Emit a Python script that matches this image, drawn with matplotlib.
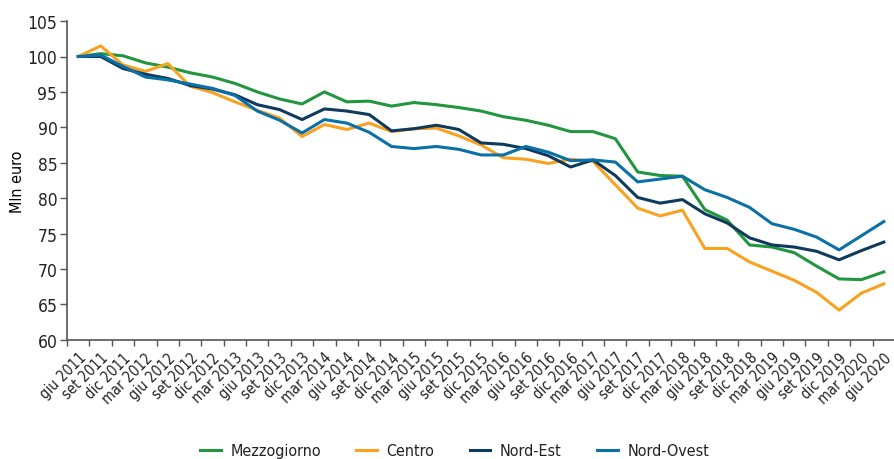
import matplotlib.pyplot as plt
import numpy as np

# etichette trimestrali
trimestri = ["giu", "set", "dic", "mar"]
anni_lab = []
anno = 2011
for i in range(37):
    m = trimestri[i % 4]
    if m == "mar" and i > 0:
        anno += 1
    anni_lab.append(f"{m} {anno}")

mezzogiorno = [100.0, 100.4, 100.1, 99.1, 98.5, 97.7, 97.1, 96.2, 95.0, 94.0,
               93.3, 95.0, 93.6, 93.7, 93.0, 93.5, 93.2, 92.8, 92.3, 91.5,
               91.0, 90.3, 89.4, 89.4, 88.4, 83.7, 83.2, 83.1, 78.4, 76.9,
               73.4, 73.1, 72.3, 70.4, 68.6, 68.5, 69.6]
centro = [100.0, 101.5, 98.8, 97.9, 99.0, 95.8, 94.9, 93.6, 92.4, 91.3,
          88.7, 90.4, 89.7, 90.6, 89.4, 89.8, 89.9, 88.8, 87.5, 85.7,
          85.5, 84.9, 85.5, 85.2, 81.9, 78.6, 77.5, 78.3, 72.9, 72.9,
          71.0, 69.7, 68.4, 66.7, 64.2, 66.6, 67.9]
nord_est = [100.0, 100.0, 98.3, 97.5, 96.9, 95.9, 95.4, 94.6, 93.2, 92.5,
            91.1, 92.6, 92.3, 91.8, 89.5, 89.8, 90.3, 89.7, 87.8, 87.6,
            87.0, 86.0, 84.4, 85.4, 83.2, 80.1, 79.3, 79.8, 77.8, 76.5,
            74.4, 73.4, 73.1, 72.5, 71.3, 72.6, 73.8]
nord_ovest = [100.0, 100.2, 98.6, 97.1, 96.7, 96.1, 95.5, 94.5, 92.3, 91.0,
              89.2, 91.1, 90.6, 89.3, 87.3, 87.0, 87.3, 86.9, 86.1, 86.1,
              87.3, 86.5, 85.3, 85.4, 85.1, 82.3, 82.7, 83.1, 81.2, 80.1,
              78.7, 76.4, 75.6, 74.5, 72.7, 74.7, 76.7]

serie = [("Mezzogiorno", mezzogiorno, "#22963f"),
         ("Centro", centro, "#f8a21f"),
         ("Nord-Est", nord_est, "#0e3a5e"),
         ("Nord-Ovest", nord_ovest, "#0a70a8")]

plt.rcParams['font.family'] = ['DejaVu Sans']
plt.rcParams['font.stretch'] = 'condensed'
plt.rcParams['text.color'] = '#222222'
plt.rcParams['xtick.color'] = '#222222'
plt.rcParams['ytick.color'] = '#222222'

fig = plt.figure(figsize=(8.95, 4.60), dpi=100)
ax = fig.add_axes([0.075, 0.259, 0.925, 0.693])

x = np.arange(len(anni_lab))
for nome, valori, colore in serie:
    ax.plot(x, valori, color=colore, lw=2.2, label=nome)

ax.set_xlim(-0.5, len(anni_lab) - 0.5)
ax.set_ylim(60, 105)
ax.set_yticks(np.arange(60, 106, 5))
ax.set_xticks(x)
ax.set_xticklabels(anni_lab, rotation=45, ha='right', rotation_mode='anchor', fontsize=10.5)
ax.set_xticks(np.arange(-0.5, len(anni_lab), 1), minor=True)
ax.tick_params(axis='x', which='major', length=0, pad=7)
ax.tick_params(axis='x', which='minor', length=4, color='#555555', width=1)
ax.tick_params(axis='y', length=5, color='#555555', width=1, labelsize=12.5, pad=2)
ax.set_ylabel("Mln euro", fontsize=11.5, labelpad=2)

for s in ['top', 'right']:
    ax.spines[s].set_visible(False)
for s in ['left', 'bottom']:
    ax.spines[s].set_color('#555555')
    ax.spines[s].set_linewidth(1.2)

fig.legend(loc='lower center', bbox_to_anchor=(0.508, -0.03), ncol=4, frameon=False,
           fontsize=11.5, handlelength=1.3, columnspacing=2.2, handletextpad=0.6)

fig.savefig("out.png", dpi=100)
